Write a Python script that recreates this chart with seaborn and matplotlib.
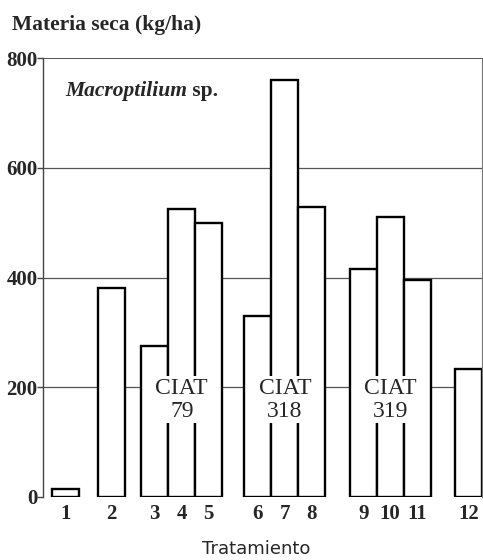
import matplotlib
matplotlib.use("Agg")
import matplotlib.pyplot as plt
import seaborn as sns
import pandas as pd

# ---- data ----
treatments = ["1", "2", "3", "4", "5", "6", "7", "8", "9", "10", "11", "12"]
materia_seca = [15, 380, 275, 525, 500, 330, 760, 528, 415, 510, 395, 233]
group_labels = ["CIAT\n79", "CIAT\n318", "CIAT\n319"]
group_members = [["3", "4", "5"], ["6", "7", "8"], ["9", "10", "11"]]
y_ticks = [0, 200, 400, 600, 800]

# ---- layout (bar positions in bar-width units) ----
layout_pos = [0.0, 1.70, 3.31, 4.31, 5.31, 7.13, 8.13, 9.13, 11.03, 12.03, 13.03, 14.94]
pos_of = dict(zip(treatments, layout_pos))

df = pd.DataFrame({"pos": layout_pos, "val": materia_seca})

sns.set_style("white")
plt.rcParams["font.family"] = ["Liberation Serif", "DejaVu Serif"]

fig = plt.figure(figsize=(4.83, 5.60), dpi=100)
ax = fig.add_axes([43 / 483, 1 - 497 / 560, (482 - 43) / 483, (497 - 58) / 560])

ax.set_axisbelow(True)
for t in [200, 400, 600]:
    ax.axhline(t, color="#555555", lw=0.9, zorder=0)
ax.axhline(800, color="#222222", lw=1.1, zorder=0)

sns.barplot(data=df, x="pos", y="val", native_scale=True, orient="x",
            width=1.0, color="white", saturation=1, edgecolor="black",
            linewidth=1.7, ax=ax, zorder=2)

ax.set_xlim(-0.83, 15.43)
ax.set_ylim(0, 800)

ax.set_xticks(layout_pos)
ax.set_xticklabels(treatments, fontsize=15, fontweight="bold")
ax.set_yticks(y_ticks)
ax.set_yticklabels([str(t) for t in y_ticks], fontsize=15, fontweight="bold")
ax.tick_params(axis="x", length=0, pad=5)
ax.tick_params(axis="y", length=4, width=1, pad=0, left=True, color="#444444")

for s in ["top", "bottom"]:
    ax.spines[s].set_visible(False)
ax.spines["left"].set_color("#444444")
ax.spines["left"].set_linewidth(1.0)
ax.spines["right"].set_color("#777777")
ax.spines["right"].set_linewidth(0.8)

ax.set_xlabel("")
ax.set_ylabel("")

# group labels
for lab, mem in zip(group_labels, group_members):
    xc = sum(pos_of[m] for m in mem) / len(mem)
    ax.text(xc, 177, lab, ha="center", va="center", fontsize=17, zorder=5,
            linespacing=1.15,
            bbox=dict(facecolor="white", edgecolor="none", pad=1.0))

# species label: italic genus + roman "sp."
t1 = ax.text(0.05, 0.925, "Macroptilium", transform=ax.transAxes,
             fontsize=15.5, ha="left", va="center", style="italic",
             fontweight="bold")
ax.annotate(" sp.", xy=(1, 0), xycoords=t1, ha="left", va="bottom",
            fontsize=15.5, fontweight="bold")

fig.text(12 / 483, 1 - 25 / 560, "Materia seca (kg/ha)", fontsize=15.5,
         fontweight="bold", ha="left", va="center")
fig.text(256 / 483, 1 - 549 / 560, "Tratamiento", fontsize=13,
         family=["DejaVu Sans"], ha="center", va="center")

fig.savefig("out.png", dpi=100)
